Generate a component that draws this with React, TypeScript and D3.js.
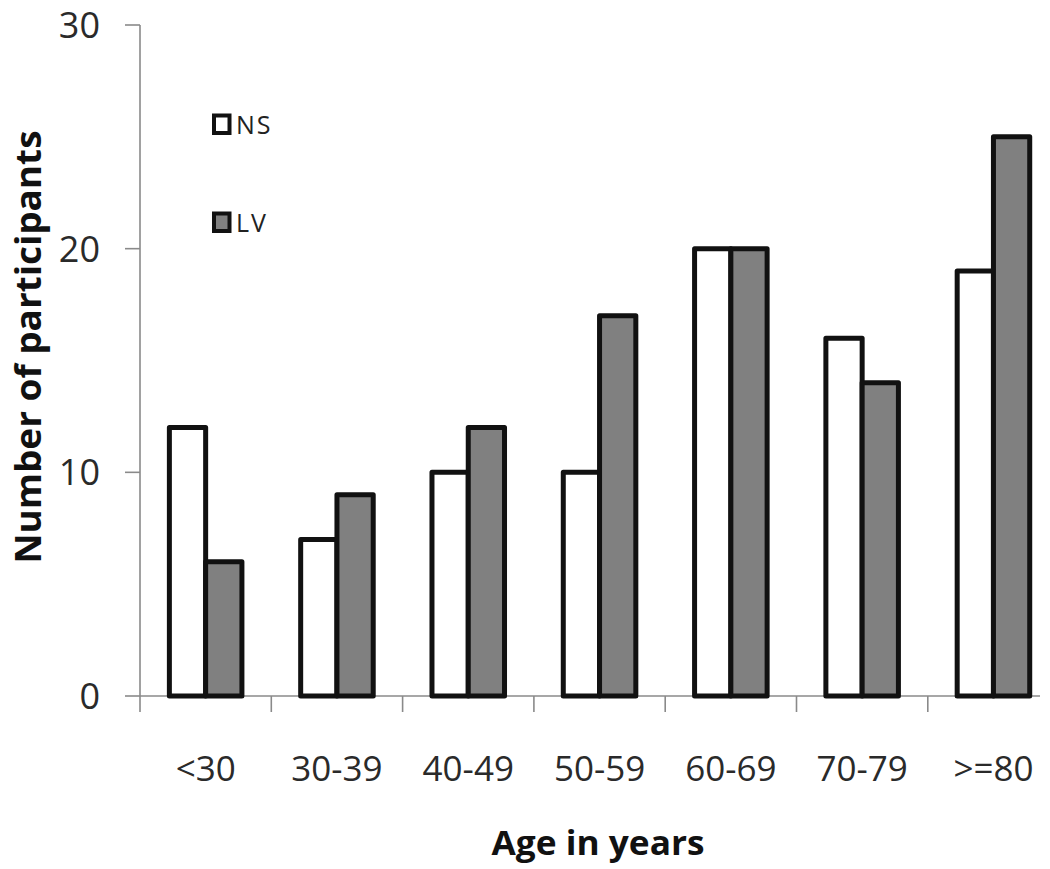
import React from "react";
import * as d3 from "d3";

const categories = ["<30", "30-39", "40-49", "50-59", "60-69", "70-79", ">=80"];
const seriesNames = ["NS", "LV"];
const nsValues = [12, 7, 10, 10, 20, 16, 19];
const lvValues = [6, 9, 12, 17, 20, 14, 25];
const yTicks = [0, 10, 20, 30];
const seriesColors = ["#ffffff", "#808080"];

const W = 1050;
const H = 869;
const axisX = 140;
const baseY = 696;
const topY = 25;
const step = 131.3;

export default function App() {
  const x = d3
    .scaleBand<string>()
    .domain(categories)
    .range([axisX, axisX + step * categories.length])
    .padding(0);
  const xs = d3
    .scaleBand<string>()
    .domain(seriesNames)
    .range([0, x.bandwidth()])
    .paddingInner(0)
    .paddingOuter(0.81);
  const y = d3.scaleLinear().domain([0, 30]).range([baseY, topY]);
  const values = [nsValues, lvValues];
  const font = "'Open Sans', 'DejaVu Sans', sans-serif";
  const tickEdges = categories.map((c) => x(c) as number);

  return (
    <svg
      width={W}
      height={H}
      style={{ position: "absolute", left: 0, top: 0, background: "#fff" }}
      fontFamily={font}
    >
      {/* y axis */}
      <line x1={axisX} x2={axisX} y1={topY} y2={baseY} stroke="#8a8a8a" strokeWidth={1.6} />
      {yTicks.map((t) => (
        <g key={t}>
          <line x1={axisX - 15} x2={axisX} y1={y(t)} y2={y(t)} stroke="#8a8a8a" strokeWidth={1.6} />
          <text
            x={100}
            y={y(t)}
            dy="0.36em"
            textAnchor="end"
            fontSize={36}
            fill="#2a2a2a"
          >
            {t}
          </text>
        </g>
      ))}
      {/* x axis */}
      <line x1={axisX} x2={1040} y1={baseY} y2={baseY} stroke="#8a8a8a" strokeWidth={1.6} />
      {tickEdges.map((e, i) => (
        <line key={i} x1={e} x2={e} y1={baseY} y2={baseY + 16} stroke="#8a8a8a" strokeWidth={1.6} />
      ))}
      {categories.map((c) => (
        <text
          key={c}
          x={(x(c) as number) + x.bandwidth() / 2}
          y={781}
          textAnchor="middle"
          fontSize={35}
          fill="#2a2a2a"
        >
          {c}
        </text>
      ))}
      {/* bars */}
      {seriesNames.map((s, si) =>
        categories.map((c, ci) => (
          <rect
            key={s + c}
            x={(x(c) as number) + (xs(s) as number)}
            y={y(values[si][ci])}
            width={xs.bandwidth()}
            height={baseY - y(values[si][ci])}
            fill={seriesColors[si]}
            stroke="#111"
            strokeWidth={5}
            strokeLinejoin="round"
          />
        ))
      )}
      {/* legend */}
      {seriesNames.map((s, si) => (
        <g key={s} transform={`translate(0, ${si * 98})`}>
          <rect x={214} y={115.5} width={15.5} height={17.5} fill={seriesColors[si]} stroke="#111" strokeWidth={4} />
          <text x={236} y={134} fontSize={25} fill="#222" letterSpacing={2}>
            {s}
          </text>
        </g>
      ))}
      {/* axis titles */}
      <text
        x={598}
        y={855}
        textAnchor="middle"
        fontSize={34}
        fontWeight="bold"
        fill="#111"
        textLength={213}
        lengthAdjust="spacingAndGlyphs"
      >
        Age in years
      </text>
      <text
        transform={`translate(41, 347) rotate(-90)`}
        textAnchor="middle"
        fontSize={35}
        fontWeight="bold"
        fill="#111"
        textLength={433}
        lengthAdjust="spacingAndGlyphs"
      >
        Number of participants
      </text>
    </svg>
  );
}
